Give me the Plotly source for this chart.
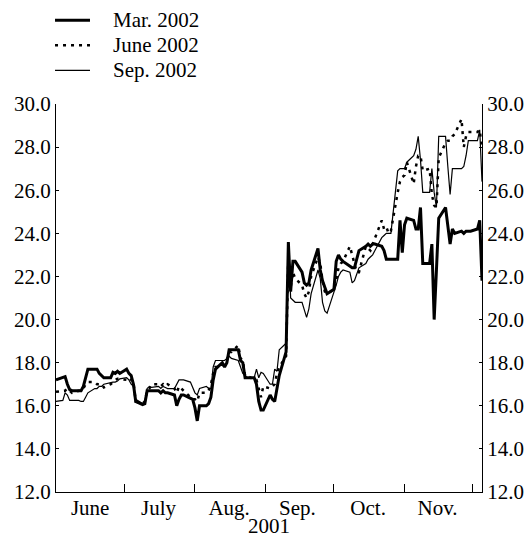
import pandas as pd
import plotly.graph_objects as go

# trading days (weekdays) Jun 1 2001 .. Dec 5 2001
dates = pd.bdate_range("2001-06-01", "2001-12-05")

mar_2002 = [
    # June
    17.2, 17.3, 17.35, 17.0, 16.75, 16.7, 16.7, 16.7, 16.9, 17.3, 17.7,
    17.7, 17.7, 17.5, 17.4, 17.3, 17.3, 17.55, 17.5, 17.6, 17.5,
    # July
    17.7, 17.5, 17.4, 17.0, 16.2, 16.05, 16.1, 16.7, 16.7, 16.7, 16.7,
    16.6, 16.7, 16.6, 16.6, 16.5, 16.0, 16.3, 16.5, 16.5, 16.35, 16.3,
    # August
    15.9, 15.3, 16.0, 16.0, 16.1, 16.4, 17.2, 17.7, 18.0, 17.8, 18.0,
    18.6, 18.6, 18.6, 18.1, 18.0, 17.3, 17.3, 17.3, 17.0, 16.2, 15.8, 15.8,
    # September
    16.5, 16.3, 16.2, 16.8, 17.4, 18.5, 23.6, 21.3, 22.7, 22.7,
    22.2, 21.7, 21.6, 21.7, 22.3, 23.3, 22.3, 21.8, 21.5, 21.2,
    # October
    21.4, 22.7, 23.0, 22.8, 22.7, 22.5, 22.4, 22.4, 22.8, 23.2, 23.4,
    23.5, 23.4, 23.5, 23.5, 23.4, 23.2, 22.8, 22.8, 22.8, 22.8, 24.6, 23.1,
    # November
    24.4, 24.7, 24.6, 24.2, 24.2, 25.2, 22.6, 22.6, 23.5, 20.0, 22.3,
    24.7, 25.2, 24.3, 23.5, 24.2, 24.0, 24.1, 24.0, 24.1, 24.1, 24.1,
    # December
    24.2, 24.6, 21.8,
]

june_2002 = [
    # June
    16.65, 16.7, 16.7, 16.8, 16.7, 16.6, 16.7, 16.7, 16.8, 17.0, 17.1,
    17.1, 17.0, 17.0, 17.0, 16.85, 17.0, 17.1, 17.2, 17.25, 17.25,
    # July
    17.2, 17.3, 17.2, 17.1, 16.2, 16.1, 16.2, 16.7, 16.8, 17.0, 17.0,
    16.9, 17.0, 16.9, 17.0, 16.8, 16.6, 16.9, 16.8, 16.7, 16.4, 16.3,
    # August
    16.3, 16.2, 16.6, 16.6, 16.7, 17.0, 17.5, 17.8, 17.8, 18.0, 18.1,
    18.5, 18.5, 18.8, 18.2, 18.1, 17.4, 17.4, 17.2, 17.2, 16.8, 16.4, 16.9,
    # September
    16.8, 16.9, 17.0, 17.5, 17.8, 18.3, 23.0, 21.5, 22.2, 21.9,
    21.6, 21.2, 21.0, 21.3, 22.0, 22.9, 22.6, 21.8, 21.3, 21.2,
    # October
    21.4, 21.8, 22.4, 22.6, 22.7, 23.4, 23.0, 22.5, 22.2, 22.2, 23.4,
    23.3, 23.2, 23.5, 23.8, 24.6, 24.2, 24.3, 24.0, 24.1, 25.9, 26.4, 26.6,
    # November
    26.7, 27.3, 26.3, 27.1, 27.6, 27.6, 26.9, 27.0, 25.8, 25.3, 25.2,
    27.5, 28.2, 28.3, 28.3, 28.5, 28.6, 29.3, 28.0, 28.5, 28.7, 28.7,
    # December
    28.7, 28.8, 27.9,
]

sep_2002 = [
    # June
    16.2, 16.25, 16.6, 16.5, 16.25, 16.25, 16.25, 16.2, 16.2, 16.4, 16.6,
    16.8, 16.8, 16.9, 16.9, 17.0, 17.1, 17.1, 17.1, 17.15, 17.25,
    # July
    17.3, 17.2, 17.0, 16.9, 16.3, 16.1, 16.2, 16.8, 16.9, 16.85, 16.9,
    16.8, 16.9, 16.85, 16.8, 16.8, 17.0, 17.2, 17.2, 17.2, 17.1, 16.8,
    # August
    16.6, 16.5, 16.8, 16.9, 16.8, 16.8, 17.8, 18.1, 18.1, 18.1, 18.2,
    18.3, 18.2, 18.1, 17.8, 17.5, 17.4, 17.3, 17.3, 17.7, 17.3, 17.55, 17.5,
    # September
    17.0, 17.0, 17.7, 17.6, 18.6, 18.9, 23.5, 21.0, 20.9, 20.8,
    20.8, 20.4, 20.1, 20.5, 21.2, 22.3, 21.9, 20.8, 20.4, 20.3,
    # October
    21.2, 21.6, 22.0, 22.2, 22.3, 22.2, 21.7, 21.8, 22.1, 22.4, 22.6,
    22.8, 22.9, 23.0, 23.2, 23.8, 23.9, 24.0, 24.0, 24.0, 26.9, 27.0, 27.0,
    # November
    27.0, 27.3, 27.6, 27.9, 28.5, 27.4, 25.9, 25.9, 27.0, 25.9, 25.2,
    28.5, 28.5, 27.1, 25.8, 27.0, 27.0, 27.0, 27.1, 27.6, 28.3, 28.3,
    # December
    28.3, 28.8, 26.4,
]

series_names = ["Mar. 2002", "June 2002", "Sep. 2002"]
month_labels = ["June", "July", "Aug.", "Sep.", "Oct.", "Nov."]
month_label_dates = ["2001-06-16", "2001-07-16", "2001-08-16",
                     "2001-09-15", "2001-10-16", "2001-11-15 12:00"]
month_starts = ["2001-07-01", "2001-08-01", "2001-09-01",
                "2001-10-01", "2001-11-01", "2001-12-01"]
y_ticks = [12, 14, 16, 18, 20, 22, 24, 26, 28, 30]
x_title = "2001"

FONT = "Liberation Serif"
TXT = dict(family=FONT, size=21, color="black")
line_styles = [dict(color="black", width=3),
               dict(color="black", width=2.5, dash="3px,5px"),
               dict(color="black", width=1.2)]

fig = go.Figure()
for name, vals, ls in zip(series_names, [mar_2002, june_2002, sep_2002], line_styles):
    fig.add_trace(go.Scatter(x=dates, y=vals, name=name, mode="lines", line=ls))
# invisible trace to carry the right-hand axis
fig.add_trace(go.Scatter(x=dates, y=mar_2002, yaxis="y2", mode="lines",
                         line=dict(width=0), opacity=0, showlegend=False,
                         hoverinfo="skip"))

# hand-drawn legend (paper coordinates) above the plot
legend_rows_y = [1.2158, 1.1512, 1.0866]
for name, ls, yy in zip(series_names, line_styles, legend_rows_y):
    fig.add_shape(type="line", xref="paper", yref="paper",
                  x0=-0.0023, x1=0.0798, y0=yy, y1=yy, line=ls)
    fig.add_annotation(text=name, xref="paper", yref="paper", x=0.128, y=yy,
                       xanchor="left", yanchor="middle", showarrow=False, font=TXT)

fig.add_annotation(text=x_title, xref="paper", yref="paper", x=0.5, y=0,
                   yshift=-34, xanchor="center", yanchor="middle",
                   showarrow=False, font=TXT)

yax = dict(range=[12, 30], tickvals=y_ticks, tickformat=".1f",
           ticks="inside", ticklen=3, tickcolor="black",
           showline=True, linecolor="black", linewidth=1,
           showgrid=False, zeroline=False, automargin=False,
           tickfont=TXT)

fig.update_layout(
    width=527, height=537,
    margin=dict(l=56, r=45, t=104, b=45),
    paper_bgcolor="white", plot_bgcolor="white",
    font=TXT,
    showlegend=False,
    xaxis=dict(range=["2001-06-01", "2001-12-05"],
               tickvals=month_label_dates, ticktext=month_labels, ticks="",
               minor=dict(ticks="inside", ticklen=8, tickcolor="black",
                          tickvals=month_starts),
               showline=True, linecolor="black", linewidth=1,
               showgrid=False, zeroline=False, automargin=False,
               ticklabelstandoff=-3,
               tickfont=TXT),
    yaxis=yax,
    yaxis2=dict(yax, overlaying="y", side="right", matches="y"),
)

fig.write_html("out.html", config={"displayModeBar": False})

# remove the browser's default page margin so the figure sits at the window origin
with open("out.html", "r", encoding="utf-8") as f:
    html = f.read()
html = html.replace("<body>", '<body style="margin:0;padding:0;">', 1)
html = html.replace("<head>", "<head><style>html,body{margin:0;padding:0;overflow:hidden;}</style>", 1)
with open("out.html", "w", encoding="utf-8") as f:
    f.write(html)
